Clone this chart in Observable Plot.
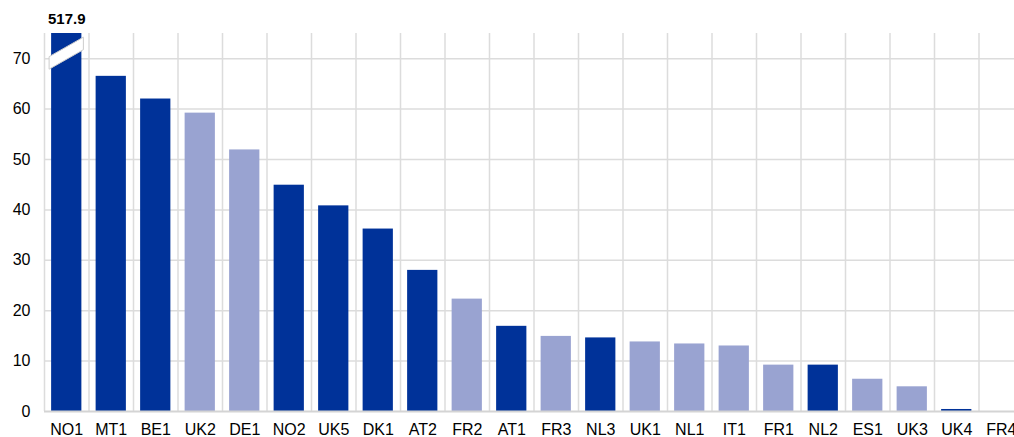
<!DOCTYPE html>
<html><head><meta charset="utf-8">
<script src="https://cdn.jsdelivr.net/npm/d3@7"></script>
<script src="https://cdn.jsdelivr.net/npm/@observablehq/plot@0.6"></script>
<style>
html,body{margin:0;padding:0;background:#fff;overflow:hidden;}
body{font-family:Arial,"Liberation Sans",sans-serif;}
</style>
</head><body><div id="chart"></div>
<script>
const categories = ["NO1","MT1","BE1","UK2","DE1","NO2","UK5","DK1","AT2","FR2","AT1","FR3","NL3","UK1","NL1","IT1","FR1","NL2","ES1","UK3","UK4","FR4"];
const values     = [517.9, 66.5, 62.0, 59.2, 51.9, 44.9, 40.8, 36.2, 28.0, 22.3, 16.9, 14.9, 14.6, 13.8, 13.4, 13.0, 9.2, 9.2, 6.4, 4.9, 0.4, 0.0];
const groups     = ["dark","dark","dark","light","light","dark","dark","dark","dark","light","dark","light","dark","light","light","light","light","dark","light","light","dark","light"];
const yTicks = [0,10,20,30,40,50,60,70];
const yMax = 75;
const breakValue = 71;

const data = categories.map((c,i)=>({cat:c, value:values[i], group:groups[i], shown:Math.min(values[i], yMax)}));

const W = 1014, H = 437, xStart = 44, xEnd = 1023;
const step = (xEnd - xStart) / categories.length;
const gridColor = "#dcdcdc";

const breakMark = (index, scales) => {
  const overs = data.filter(d => d.value > yMax);
  const g = d3.create("svg:g");
  const sx = scales.x;
  const bw = typeof sx.bandwidth === "function" ? sx.bandwidth() : (sx.bandwidth != null ? sx.bandwidth : step * 0.68);
  for (const d of overs) {
    const cx = sx(d.cat) + bw / 2;
    const cy = scales.y(breakValue);
    const hw = bw / 2 + 2, rise = 9.75, th = 6.25;
    const pts = [[cx-hw, cy+rise-th],[cx+hw, cy-rise-th],[cx+hw, cy-rise+th],[cx-hw, cy+rise+th]];
    g.append("polygon").attr("points", pts.map(p=>p.join(",")).join(" "))
      .attr("fill","#fff").attr("stroke","#cccccc").attr("stroke-width",1);
  }
  return g.node();
};

const chart = Plot.plot({
  width: W, height: H,
  marginTop: 33, marginBottom: 26, marginLeft: 44, marginRight: 0,
  style: {fontFamily: 'Arial, "Liberation Sans", sans-serif', fontSize: "16px", color: "#000", background: "#fff"},
  x: {domain: categories, range: [xStart, xEnd], paddingInner: 0.32, paddingOuter: 0.16, round: false, label: null},
  y: {domain: [0, yMax], label: null},
  color: {domain: ["dark","light"], range: ["#003299","#99a3d1"]},
  marks: [
    Plot.ruleY(yTicks.filter(t => t > 0), {stroke: gridColor, strokeWidth: 1.5}),
    Plot.ruleX(categories, {x: d => d, dx: -step/2, stroke: gridColor, strokeWidth: 1.5}),
    Plot.ruleX(categories.slice(-1), {x: d => d, dx: step/2, stroke: gridColor, strokeWidth: 1.5}),
    Plot.barY(data, {x: "cat", y: "shown", fill: "group"}),
    Plot.ruleY([0], {stroke: "#d4d4d4", strokeWidth: 2}),
    breakMark,
    Plot.text(data.filter(d => d.value > yMax), {x: "cat", y: () => yMax, text: d => d.value.toFixed(1), dy: -14, fontWeight: "bold", fontSize: 15, fill: "#000"}),
    Plot.axisY({ticks: yTicks, tickSize: 0, tickPadding: 14, fontSize: 16}),
    Plot.axisX({tickSize: 0, tickPadding: 12, fontSize: 16})
  ]
});
document.getElementById("chart").append(chart);
</script>
</body></html>
